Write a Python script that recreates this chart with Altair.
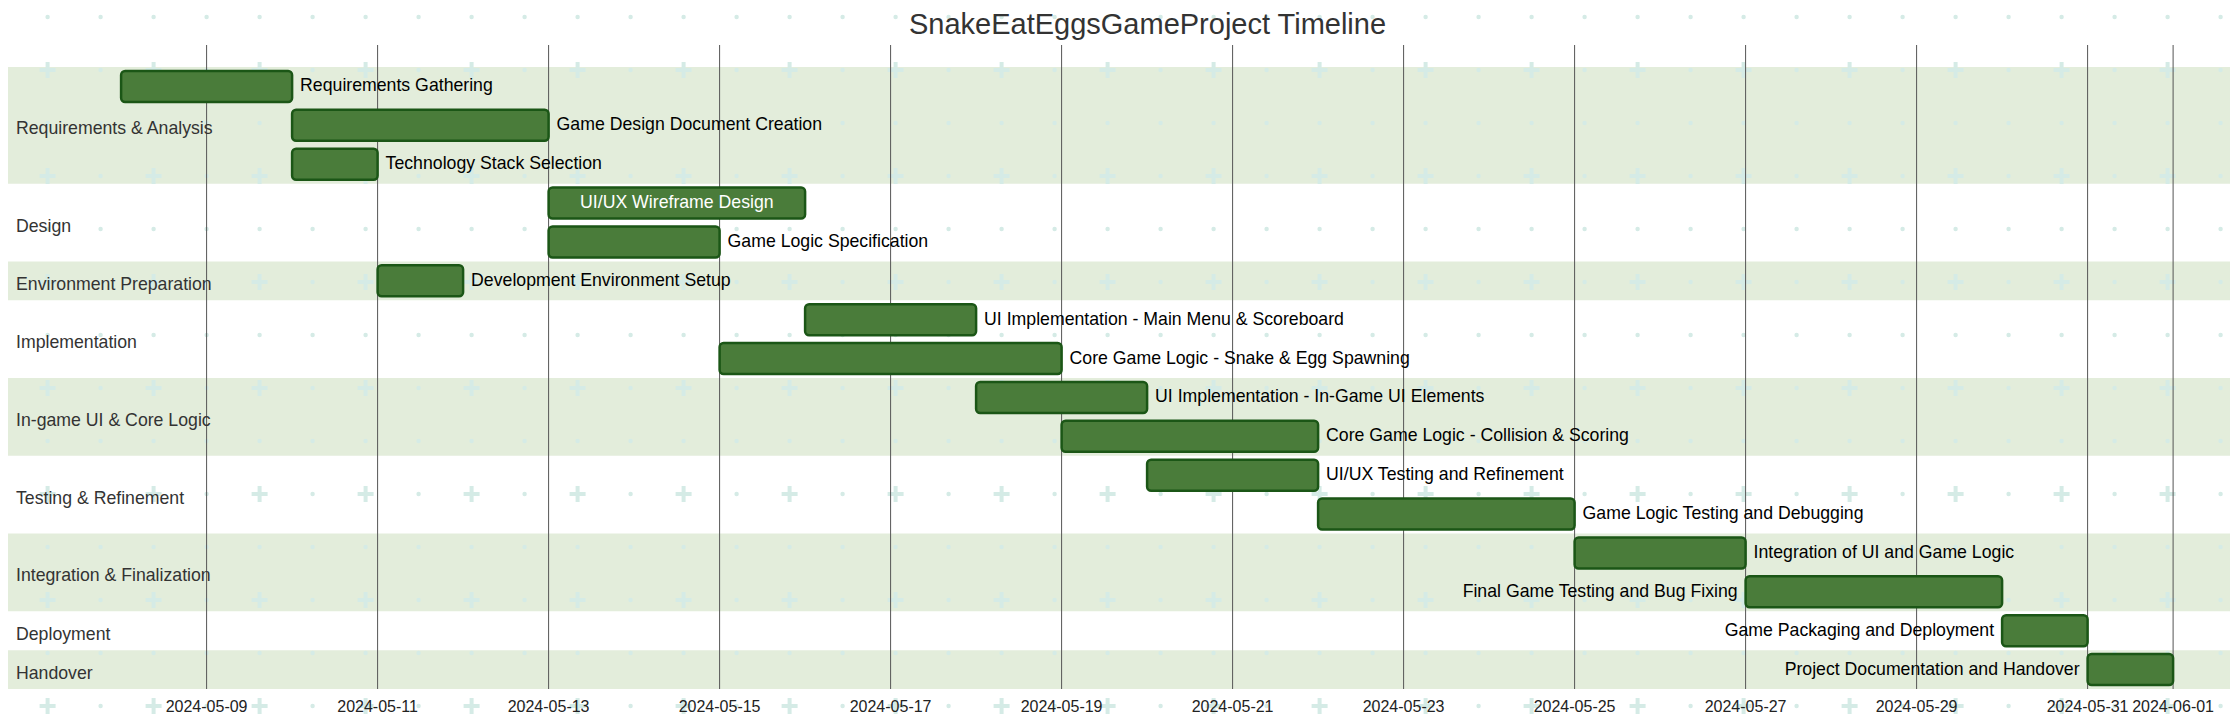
import altair as alt
import pandas as pd

# ---------------- data ----------------
chart_title = "SnakeEatEggsGameProject Timeline"

section_names = [
    "Requirements & Analysis", "Design", "Environment Preparation",
    "Implementation", "In-game UI & Core Logic", "Testing & Refinement",
    "Integration & Finalization", "Deployment", "Handover",
]

task_names = [
    "Requirements Gathering",
    "Game Design Document Creation",
    "Technology Stack Selection",
    "UI/UX Wireframe Design",
    "Game Logic Specification",
    "Development Environment Setup",
    "UI Implementation - Main Menu & Scoreboard",
    "Core Game Logic - Snake & Egg Spawning",
    "UI Implementation - In-Game UI Elements",
    "Core Game Logic - Collision & Scoring",
    "UI/UX Testing and Refinement",
    "Game Logic Testing and Debugging",
    "Integration of UI and Game Logic",
    "Final Game Testing and Bug Fixing",
    "Game Packaging and Deployment",
    "Project Documentation and Handover",
]

task_sections = [
    "Requirements & Analysis", "Requirements & Analysis", "Requirements & Analysis",
    "Design", "Design",
    "Environment Preparation",
    "Implementation", "Implementation",
    "In-game UI & Core Logic", "In-game UI & Core Logic",
    "Testing & Refinement", "Testing & Refinement",
    "Integration & Finalization", "Integration & Finalization",
    "Deployment",
    "Handover",
]

task_starts = [
    "2024-05-08", "2024-05-10", "2024-05-10",
    "2024-05-13", "2024-05-13",
    "2024-05-11",
    "2024-05-16", "2024-05-15",
    "2024-05-18", "2024-05-19",
    "2024-05-20", "2024-05-22",
    "2024-05-25", "2024-05-27",
    "2024-05-30",
    "2024-05-31",
]

task_ends = [
    "2024-05-10", "2024-05-13", "2024-05-11",
    "2024-05-16", "2024-05-15",
    "2024-05-12",
    "2024-05-18", "2024-05-19",
    "2024-05-20", "2024-05-22",
    "2024-05-22", "2024-05-25",
    "2024-05-27", "2024-05-30",
    "2024-05-31",
    "2024-06-01",
]

tick_dates = [
    "2024-05-09", "2024-05-11", "2024-05-13", "2024-05-15", "2024-05-17",
    "2024-05-19", "2024-05-21", "2024-05-23", "2024-05-25", "2024-05-27",
    "2024-05-29", "2024-05-31", "2024-06-01",
]

# ---------------- layout ----------------
W, H = 2222, 706
ROW_TOP, ROW_BOTTOM = 59, 681
PX_PER_DAY = 85.5
FIRST_TICK_PX = 198.6
FONT = "Liberation Sans, Arial, sans-serif"

first_tick = pd.Timestamp(tick_dates[0])
t0 = first_tick - pd.Timedelta(days=FIRST_TICK_PX / PX_PER_DAY)
t1 = t0 + pd.Timedelta(days=W / PX_PER_DAY)
to_ms = lambda t: int(t.value // 10**6)

xs = alt.Scale(type="utc", domain=[to_ms(t0), to_ms(t1)], range=[0, W], nice=False)
n_rows = len(task_names)
ys = alt.Scale(domain=[0, n_rows], range=[ROW_TOP, ROW_BOTTOM], zero=False, nice=False)

# tasks table
rows = []
for i, (name, sec, s, e) in enumerate(zip(task_names, task_sections, task_starts, task_ends)):
    sd, ed = pd.Timestamp(s), pd.Timestamp(e)
    bar_px = (ed - sd).days * PX_PER_DAY
    end_px = (ed - t0) / pd.Timedelta(days=1) * PX_PER_DAY
    est = len(name) * 9.5
    if est < bar_px - 10:
        side = "inside"
    elif end_px + 8 + est <= W:
        side = "right"
    else:
        side = "left"
    mid = sd + (ed - sd) / 2
    rows.append(dict(task=name, section=sec, start=s, end=e,
                     mid=mid.strftime("%Y-%m-%dT%H:%M:%SZ"),
                     y0=i + 0.1, y1=i + 0.9, yc=i + 0.5, side=side))
tasks_df = pd.DataFrame(rows)

# sections table
sec_rows = []
for si, sec in enumerate(section_names):
    idx = [i for i, s in enumerate(task_sections) if s == sec]
    a, b = min(idx), max(idx) + 1
    sec_rows.append(dict(section=sec, r0=a, r1=b, rc=(a + b) / 2,
                         shade="green" if si % 2 == 0 else "white"))
sec_df = pd.DataFrame(sec_rows)

ticks_df = pd.DataFrame(dict(date=tick_dates, label=tick_dates))

# decorative background pattern (plus signs and dots)
pat = []
for j in range(14):
    for k in range(42):
        plus = (j % 2 == 1) and (k % 2 == 0)
        pat.append(dict(px=39.6 + 53 * k, py=9 + 53 * j, kind="plus" if plus else "dot"))
pat_df = pd.DataFrame(pat)

PLUS = "M-1,-0.25H-0.25V-1H0.25V-0.25H1V0.25H0.25V1H-0.25V0.25H-1Z"
PAT_COLOR = "#d5ebe6"

# ---------------- layers ----------------
bands = alt.Chart(sec_df).transform_filter(alt.datum.shade == "green").mark_rect(
    color="#e3eddb").encode(
    x=alt.value(0), x2=alt.value(W),
    y=alt.Y("r0:Q", scale=ys, axis=None), y2="r1:Q")

plus_layer = alt.Chart(pat_df).transform_filter(alt.datum.kind == "plus").mark_point(
    shape=PLUS, filled=True, size=256, color=PAT_COLOR, opacity=1).encode(
    x=alt.X("px:Q", scale=None, axis=None), y=alt.Y("py:Q", scale=None, axis=None))

dot_layer = alt.Chart(pat_df).transform_filter(alt.datum.kind == "dot").mark_point(
    shape="circle", filled=True, size=20, color=PAT_COLOR, opacity=1).encode(
    x=alt.X("px:Q", scale=None, axis=None), y=alt.Y("py:Q", scale=None, axis=None))

grid = alt.Chart(ticks_df).mark_rule(color="#555555", strokeWidth=1).encode(
    x=alt.X("date:T", scale=xs, axis=None),
    y=alt.value(37), y2=alt.value(ROW_BOTTOM))

bars = alt.Chart(tasks_df).mark_rect(
    color="#4a7c3a", stroke="#1b5616", strokeWidth=2.5, cornerRadius=4).encode(
    x=alt.X("start:T", scale=xs, axis=None), x2="end:T",
    y=alt.Y("y0:Q", scale=ys, axis=None), y2="y1:Q")

lab_right = alt.Chart(tasks_df).transform_filter(alt.datum.side == "right").mark_text(
    align="left", baseline="middle", dx=8, font=FONT, fontSize=17.7, color="#000000").encode(
    x=alt.X("end:T", scale=xs, axis=None), y=alt.Y("yc:Q", scale=ys, axis=None), text="task:N")

lab_left = alt.Chart(tasks_df).transform_filter(alt.datum.side == "left").mark_text(
    align="right", baseline="middle", dx=-8, font=FONT, fontSize=17.7, color="#000000").encode(
    x=alt.X("start:T", scale=xs, axis=None), y=alt.Y("yc:Q", scale=ys, axis=None), text="task:N")

lab_in = alt.Chart(tasks_df).transform_filter(alt.datum.side == "inside").mark_text(
    align="center", baseline="middle", font=FONT, fontSize=17.7, color="#ffffff").encode(
    x=alt.X("mid:T", scale=xs, axis=None), y=alt.Y("yc:Q", scale=ys, axis=None), text="task:N")

sec_labels = alt.Chart(sec_df).mark_text(
    align="left", baseline="middle", dy=4, font=FONT, fontSize=17.7, color="#333333").encode(
    x=alt.value(8), y=alt.Y("rc:Q", scale=ys, axis=None), text="section:N")

tick_labels = alt.Chart(ticks_df).mark_text(
    align="center", baseline="middle", font=FONT, fontSize=16, color="#222222").encode(
    x=alt.X("date:T", scale=xs, axis=None), y=alt.value(699), text="label:N")

title_df = pd.DataFrame(dict(t=[chart_title]))
title_text = alt.Chart(title_df).mark_text(
    align="center", baseline="alphabetic", font=FONT, fontSize=29, color="#333333").encode(
    x=alt.value(1139.5), y=alt.value(26), text="t:N")

chart = alt.layer(
    bands, plus_layer, dot_layer, grid, bars,
    lab_right, lab_left, lab_in, sec_labels, tick_labels, title_text,
).resolve_scale(x="independent", y="independent").properties(
    width=W, height=H, padding=0, autosize=alt.AutoSizeParams(type="none"),
    background="white",
).configure_view(stroke=None)

chart.save("out.html", embed_options={"renderer": "svg", "actions": False})
